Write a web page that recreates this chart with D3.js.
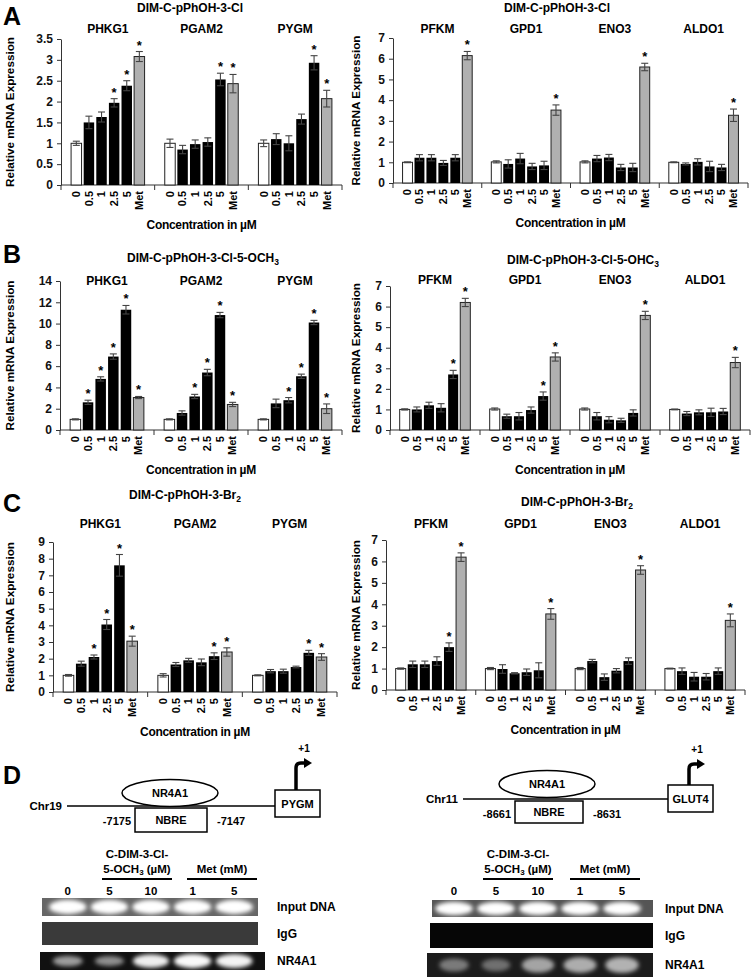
<!DOCTYPE html>
<html>
<head>
<meta charset="utf-8">
<script src="https://cdn.jsdelivr.net/npm/d3@7/dist/d3.min.js"></script>
<style>
body{margin:0;background:#fff;}
svg{display:block;font-family:"Liberation Sans",Arial,sans-serif;font-weight:bold;}
</style>
</head>
<body>
<svg id="fig" width="755" height="977"></svg>
<script>
var conc=["0","0.5","1","2.5","5","Met"];
var genesL=["PHKG1","PGAM2","PYGM"];
var genesR=["PFKM","GPD1","ENO3","ALDO1"];

/* A: DIM-C-pPhOH-3-Cl */
var aLVal=[[1.0,1.5,1.63,1.97,2.38,3.08],[1.0,0.85,0.98,1.03,2.53,2.43],[1.0,1.1,1.0,1.58,2.93,2.07]];
var aLErr=[[0.05,0.15,0.12,0.1,0.12,0.12],[0.1,0.1,0.1,0.1,0.15,0.22],[0.08,0.13,0.18,0.12,0.17,0.2]];
var aLStar=[[0,0,0,1,1,1],[0,0,0,0,1,1],[0,0,0,0,1,1]];
var aRVal=[[1.0,1.22,1.22,0.97,1.22,6.15],[1.02,0.92,1.18,0.8,0.85,3.52],[1.02,1.18,1.23,0.75,0.75,5.6],[1.0,0.92,1.02,0.8,0.75,3.27]];
var aRErr=[[0.02,0.15,0.15,0.12,0.15,0.2],[0.05,0.2,0.25,0.15,0.2,0.25],[0.05,0.15,0.15,0.15,0.2,0.18],[0.02,0.05,0.15,0.25,0.15,0.3]];
var aRStar=[[0,0,0,0,0,1],[0,0,0,0,0,1],[0,0,0,0,0,1],[0,0,0,0,0,1]];

/* B: DIM-C-pPhOH-3-Cl-5-OCH3 */
var bLVal=[[1.0,2.6,4.8,6.9,11.3,3.05],[1.0,1.6,3.15,5.4,10.8,2.4],[1.0,2.5,2.8,5.05,10.1,2.0]];
var bLErr=[[0.05,0.2,0.2,0.25,0.4,0.1],[0.05,0.2,0.2,0.3,0.25,0.2],[0.05,0.4,0.25,0.2,0.2,0.45]];
var bLStar=[[0,1,1,1,1,1],[0,0,1,1,1,1],[0,0,1,1,1,1]];
var bRVal=[[1.0,1.0,1.2,1.08,2.7,6.2],[1.02,0.67,0.67,0.97,1.65,3.55],[1.02,0.67,0.5,0.47,0.83,5.57],[1.0,0.8,0.86,0.86,0.9,3.28]];
var bRErr=[[0.03,0.12,0.15,0.2,0.2,0.2],[0.05,0.1,0.18,0.15,0.2,0.2],[0.05,0.18,0.15,0.1,0.15,0.2],[0.02,0.1,0.12,0.2,0.15,0.25]];
var bRStar=[[0,0,0,0,1,1],[0,0,0,0,1,1],[0,0,0,0,0,1],[0,0,0,0,0,1]];

/* C: DIM-C-pPhOH-3-Br2 */
var cLVal=[[1.0,1.7,2.1,4.05,7.6,3.05],[1.0,1.65,1.9,1.78,2.15,2.4],[1.0,1.25,1.25,1.5,2.35,2.1]];
var cLErr=[[0.05,0.15,0.12,0.3,0.65,0.3],[0.1,0.12,0.12,0.2,0.2,0.25],[0.03,0.1,0.12,0.05,0.15,0.2]];
var cLStar=[[0,0,1,1,1,1],[0,0,0,0,1,1],[0,0,0,0,1,1]];
var cRVal=[[1.0,1.2,1.2,1.35,2.0,6.2],[1.0,0.98,0.78,0.83,0.92,3.55],[1.0,1.35,0.6,0.9,1.35,5.6],[1.0,0.88,0.62,0.62,0.88,3.25]];
var cRErr=[[0.03,0.15,0.15,0.2,0.2,0.2],[0.05,0.2,0.03,0.15,0.35,0.25],[0.05,0.08,0.15,0.1,0.15,0.2],[0.02,0.15,0.2,0.15,0.15,0.3]];
var cRStar=[[0,0,0,0,1,1],[0,0,0,0,0,1],[0,0,0,0,0,1],[0,0,0,0,0,1]];

/* D: ChIP gels, band intensity per lane */
var lanes=["0","5","10","1","5"];
var inputL=[1,1,1,1,1],igL=[0,0,0,0,0],nrL=[0.55,0.5,0.92,1,0.95];
var inputR=[1,1,1,1,1],igR=[0,0,0,0,0],nrR=[0.5,0.45,0.68,0.72,0.74];

var svg=d3.select("#fig");
var defs=svg.append("defs");
defs.append("filter").attr("id","blur").attr("x","-50%").attr("y","-80%").attr("width","200%").attr("height","260%")
	.append("feGaussianBlur").attr("stdDeviation",2.2);

function txt(x,y,s,size,anchor){
	return svg.append("text").attr("x",x).attr("y",y).attr("font-size",size).attr("text-anchor",anchor||"middle").text(s);
}
function titleSub(x,y,main,sub){
	var t=svg.append("text").attr("x",x).attr("y",y).attr("font-size",12).attr("text-anchor","middle");
	t.append("tspan").text(main);
	if(sub){t.append("tspan").attr("font-size",8.5).attr("dy",3).text(sub);}
}

/* bar chart panel */
function drawChart(o){
	var g=svg.append("g");
	var x=d3.scaleBand().domain(o.genes).range([o.x0,o.x1]);
	var xi=d3.scaleBand().domain(conc).range([0,x.bandwidth()]).paddingInner(0.17).paddingOuter(0.8);
	var y=d3.scaleLinear().domain([0,o.yMax]).range([o.yBase,o.yTop]);
	var ax=g.append("g").attr("transform","translate("+o.x0+",0)")
		.call(d3.axisLeft(y).tickValues(d3.range(0,o.yMax+0.001,o.step)).tickSize(4).tickSizeOuter(0).tickPadding(4).tickFormat(d3.format("~g")));
	ax.selectAll("path,line").attr("stroke","#333");
	ax.selectAll("text").attr("font-size",12).attr("font-family","Liberation Sans,Arial,sans-serif").attr("font-weight","bold").attr("fill","#111");
	g.append("line").attr("x1",o.x0).attr("x2",o.x1).attr("y1",o.yBase).attr("y2",o.yBase).attr("stroke","#333");
	var seps=o.genes.map(function(d){return x(d);}).concat([o.x1]);
	g.selectAll(".sep").data(seps).enter().append("line").attr("class","sep")
		.attr("x1",function(d){return d;}).attr("x2",function(d){return d;})
		.attr("y1",o.yBase).attr("y2",o.yBase+5).attr("stroke","#333");
	o.genes.forEach(function(gene,gi){
		var gx=x(gene);
		var rows=conc.map(function(c,ci){return {c:c,ci:ci,v:o.vals[gi][ci],e:o.errs[gi][ci],s:o.stars[gi][ci]};});
		var bw=xi.bandwidth();
		g.selectAll(".bar"+gi).data(rows).enter().append("rect")
			.attr("x",function(d){return gx+xi(d.c);}).attr("width",bw)
			.attr("y",function(d){return y(d.v);}).attr("height",function(d){return o.yBase-y(d.v);})
			.attr("fill",function(d){return d.ci==0?"#fff":(d.ci==5?"#b0b0b0":"#000");})
			.attr("stroke",function(d){return d.ci==0||d.ci==5?"#222":"none";});
		var eb=g.selectAll(".err"+gi).data(rows).enter().append("g").attr("stroke","#444").attr("stroke-width",1.1);
		eb.append("line").attr("x1",function(d){return gx+xi(d.c)+bw/2;}).attr("x2",function(d){return gx+xi(d.c)+bw/2;})
			.attr("y1",function(d){return y(d.v-d.e);}).attr("y2",function(d){return y(d.v+d.e);});
		[-1,1].forEach(function(sgn){
			eb.append("line").attr("x1",function(d){return gx+xi(d.c)+bw/2-3.5;}).attr("x2",function(d){return gx+xi(d.c)+bw/2+3.5;})
				.attr("y1",function(d){return y(d.v+sgn*d.e);}).attr("y2",function(d){return y(d.v+sgn*d.e);});
		});
		g.selectAll(".star"+gi).data(rows.filter(function(d){return d.s;})).enter().append("text")
			.attr("x",function(d){return gx+xi(d.c)+bw/2;}).attr("y",function(d){return y(d.v+d.e)-2;})
			.attr("text-anchor","middle").attr("font-size",13).text("*");
		g.selectAll(".lab"+gi).data(rows).enter().append("text")
			.attr("transform",function(d){return "translate("+(gx+xi(d.c)+bw/2)+","+(o.yBase+6)+") rotate(-90)";})
			.attr("text-anchor","end").attr("dy","0.35em").attr("font-size",11).text(function(d){return d.c;});
		txt(gx+x.bandwidth()/2,o.geneY,gene,12);
	});
	svg.append("text").attr("transform","translate("+o.ytX+","+(o.yTop+o.yBase)/2+") rotate(-90)")
		.attr("text-anchor","middle").attr("font-size",11.5).attr("textLength",150).attr("lengthAdjust","spacingAndGlyphs")
		.text("Relative mRNA Expression");
	svg.append("text").attr("x",(o.x0+o.x1)/2).attr("y",o.yBase+44).attr("text-anchor","middle")
		.attr("font-size",12).attr("letter-spacing",-0.3).text("Concentration in \u00b5M");
}

/* panel letters */
txt(3,25,"A",25,"start");
txt(3,263,"B",25,"start");
txt(3,512,"C",25,"start");
txt(3,784,"D",25,"start");

titleSub(190,12,"DIM-C-pPhOH-3-Cl");
titleSub(557,12,"DIM-C-pPhOH-3-Cl");
titleSub(203,262,"DIM-C-pPhOH-3-Cl-5-OCH","3");
titleSub(583,264,"DIM-C-pPhOH-3-Cl-5-OHC","3");
titleSub(185,499,"DIM-C-pPhOH-3-Br","2");
titleSub(577,506,"DIM-C-pPhOH-3-Br","2");

drawChart({genes:genesL,vals:aLVal,errs:aLErr,stars:aLStar,x0:61,x1:342,yBase:185,yTop:39,yMax:3.5,step:0.5,geneY:33,ytX:14});
drawChart({genes:genesR,vals:aRVal,errs:aRErr,stars:aRStar,x0:393,x1:748,yBase:183,yTop:38,yMax:7,step:1,geneY:33,ytX:360});
drawChart({genes:genesL,vals:bLVal,errs:bLErr,stars:bLStar,x0:60,x1:342,yBase:430,yTop:281,yMax:14,step:2,geneY:285,ytX:14});
drawChart({genes:genesR,vals:bRVal,errs:bRErr,stars:bRStar,x0:390,x1:750,yBase:430,yTop:286,yMax:7,step:1,geneY:284,ytX:360});
drawChart({genes:genesL,vals:cLVal,errs:cLErr,stars:cLStar,x0:53,x1:337,yBase:692,yTop:542,yMax:9,step:1,geneY:528,ytX:14});
drawChart({genes:genesR,vals:cRVal,errs:cRErr,stars:cRStar,x0:386,x1:745,yBase:690,yTop:540,yMax:7,step:1,geneY:528,ytX:360});

/* promoter diagrams */
function promoter(o){
	var g=svg.append("g").attr("stroke","#000").attr("fill","none");
	g.append("line").attr("x1",o.lx0).attr("x2",o.lx1).attr("y1",o.ly).attr("y2",o.ly).attr("stroke-width",1.5);
	g.append("ellipse").attr("cx",o.ex).attr("cy",o.ey).attr("rx",48).attr("ry",13.5).attr("fill","#fff").attr("stroke-width",1.5);
	g.append("rect").attr("x",o.bx).attr("y",o.by).attr("width",o.bw).attr("height",o.bh).attr("fill","#fff").attr("stroke-width",1.5);
	g.append("rect").attr("x",o.gx).attr("y",o.gy).attr("width",45).attr("height",27).attr("fill","#fff").attr("stroke-width",1.5);
	var sx=o.gx+21;
	g.append("path").attr("d","M"+sx+","+o.gy+" V"+(o.ay+5)+" Q"+sx+","+o.ay+" "+(sx+5)+","+o.ay+" H"+(sx+9)).attr("stroke-width",3.5);
	g.append("path").attr("d","M"+(sx+8)+","+(o.ay-5)+" L"+(sx+16)+","+o.ay+" L"+(sx+8)+","+(o.ay+5)+"Z").attr("fill","#000").attr("stroke","none");
	txt(o.lx0-5,o.ly+4,o.chr,11.5,"end");
	txt(o.ex,o.ey+4,"NR4A1",11);
	txt(o.bx+o.bw/2,o.by+o.bh/2+4,"NBRE",11);
	txt(o.bx-4,o.by+17,o.p1,11,"end");
	txt(o.bx+o.bw+10,o.by+17,o.p2,11,"start");
	txt(o.gx+22.5,o.gy+18,o.gene,11);
	txt(sx+8,o.ay-11,"+1",10);
}
promoter({lx0:67,lx1:275,ly:806,ex:170,ey:793,bx:135,by:808,bw:72,bh:24,gx:275,gy:790,ay:763,chr:"Chr19",p1:"-7175",p2:"-7147",gene:"PYGM"});
promoter({lx0:463,lx1:668,ly:799,ex:547,ey:784,bx:515,by:801,bw:68,bh:22,gx:668,gy:785,ay:764,chr:"Chr11",p1:"-8661",p2:"-8631",gene:"GLUT4"});

/* gels */
function gel(o){
	var xs=d3.scaleBand().domain(d3.range(lanes.length)).range(o.lr);
	var head=svg.append("g");
	txt(o.c1,858,"C-DIM-3-Cl-",11.5);
	var t=head.append("text").attr("x",o.c1).attr("y",873).attr("font-size",11.5).attr("text-anchor","middle");
	t.append("tspan").text("5-OCH");
	t.append("tspan").attr("font-size",8).attr("dy",2).text("3");
	t.append("tspan").attr("dy",-2).text(" (\u00b5M)");
	txt(o.c2,873,"Met (mM)",11.5);
	head.append("line").attr("x1",o.c1-35).attr("x2",o.c1+35).attr("y1",879).attr("y2",879).attr("stroke","#000").attr("stroke-width",2);
	head.append("line").attr("x1",o.c2-35).attr("x2",o.c2+35).attr("y1",879).attr("y2",879).attr("stroke","#000").attr("stroke-width",2);
	head.selectAll(".ln").data(lanes).enter().append("text")
		.attr("x",function(d,i){return xs(i)+xs.bandwidth()/2;}).attr("y",895)
		.attr("text-anchor","middle").attr("font-size",11.5).text(function(d){return d;});
	o.rows.forEach(function(r){
		var g=svg.append("g");
		g.append("rect").attr("x",r.x0).attr("y",r.y0).attr("width",r.x1-r.x0).attr("height",r.h).attr("fill",r.bg);
		var cp="clip"+r.id;
		defs.append("clipPath").attr("id",cp).append("rect").attr("x",r.x0).attr("y",r.y0).attr("width",r.x1-r.x0).attr("height",r.h);
		g.append("g").attr("clip-path","url(#"+cp+")").selectAll("ellipse").data(r.vals.filter(function(v){return v>0;}).length?r.vals:[]).enter().append("ellipse")
			.attr("cx",function(d,i){return xs(i)+xs.bandwidth()/2;}).attr("cy",r.y0+r.h/2)
			.attr("rx",function(d){return xs.bandwidth()*(0.25+0.2*d);}).attr("ry",function(d){return r.h*(0.15+0.25*d);})
			.attr("fill",function(d){return d3.interpolateGreys(1-d*r.peak);}).attr("filter","url(#blur)");
		txt(o.tx,r.y0+r.h/2+4,r.name,12,"start");
	});
}
gel({lr:[47,255],c1:137,c2:222,tx:277,rows:[
	{id:"l1",name:"Input DNA",x0:42,x1:258,y0:898,h:18,bg:"#666",vals:inputL,peak:1},
	{id:"l2",name:"IgG",x0:42,x1:258,y0:922,h:23,bg:"#3a3a3a",vals:igL,peak:1},
	{id:"l3",name:"NR4A1",x0:40,x1:265,y0:952,h:18,bg:"#111",vals:nrL,peak:0.95}]});
gel({lr:[433,643],c1:518,c2:605,tx:665,rows:[
	{id:"r1",name:"Input DNA",x0:432,x1:653,y0:900,h:17,bg:"#555",vals:inputR,peak:1},
	{id:"r2",name:"IgG",x0:430,x1:653,y0:923,h:25,bg:"#060606",vals:igR,peak:1},
	{id:"r3",name:"NR4A1",x0:427,x1:653,y0:953,h:24,bg:"#1c1c1c",vals:nrR,peak:0.8}]});
</script>
</body>
</html>
